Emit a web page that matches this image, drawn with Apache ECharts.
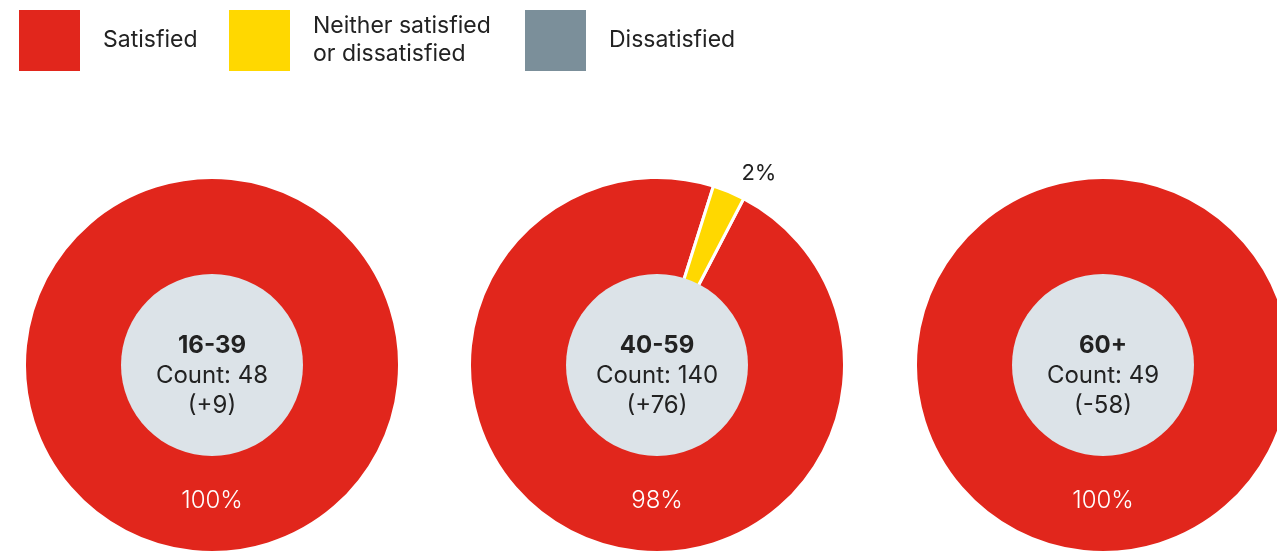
<!DOCTYPE html>
<html>
<head>
<meta charset="utf-8">
<script src="https://cdn.jsdelivr.net/npm/echarts@6/dist/echarts.min.js"></script>
<style>
html,body{margin:0;padding:0;background:#fff;}
#chart{width:1277px;height:552px;}
</style>
</head>
<body>
<div id="chart"></div>
<script>
// ---- data ----
const categories = ['Satisfied', 'Neither satisfied or dissatisfied', 'Dissatisfied'];
const legendLabels = ['Satisfied', 'Neither satisfied\nor dissatisfied', 'Dissatisfied'];
const groups = ['16-39', '40-59', '60+'];
const counts = [48, 140, 49];
const changes = ['+9', '+76', '-58'];
const satisfied = [100, 98, 100];
const neither = [0, 2, 0];
const dissatisfied = [0, 0, 0];

// ---- style ----
const colors = ['#e1261c', '#ffd800', '#7b8f9a'];
const innerFill = '#dce3e8';
const textColor = '#222222';
const font = 'Inter, "Noto Sans", sans-serif';
const centers = [[212, 365], [657, 365], [1103, 365]];
const legendLefts = [19, 229, 525];

const chart = echarts.init(document.getElementById('chart'));

const series = [];
groups.forEach((g, i) => {
  const vals = [satisfied[i], neither[i], dissatisfied[i]];
  series.push({
    type: 'pie',
    name: g,
    center: centers[i],
    radius: [88, 187.5],
    startAngle: 62.5,
    minAngle: 10,
    avoidLabelOverlap: false,
    silent: true,
    color: colors,
    itemStyle: { borderColor: '#fff', borderWidth: 3 },
    labelLine: { show: false, length: 20, length2: 0 },
    label: { fontFamily: font },
    labelLayout: function (p) {
      if (p.dataIndex === 0) {
        return {
          x: p.rect.x + p.rect.width / 2,
          y: p.rect.y + p.rect.height / 2 + 136,
          align: 'center',
          verticalAlign: 'middle'
        };
      }
    },
    data: categories.map((c, k) => ({
      name: c,
      value: vals[k] === 0 ? '-' : vals[k],
      label: k === 0
        ? { show: true, position: 'inside', color: '#fff', fontSize: 24, fontWeight: 300, fontFamily: font, formatter: p => p.value + '%' }
        : { show: vals[k] !== 0, position: 'outside', color: textColor, fontSize: 22, fontFamily: font, formatter: p => p.value + '%' }
    }))
  });
  series.push({
    type: 'pie',
    name: g + ' centre',
    center: centers[i],
    radius: [0, 91],
    silent: true,
    itemStyle: { color: innerFill },
    label: {
      show: true,
      position: 'center',
      offset: [0, 11],
      color: textColor,
      fontFamily: font,
      formatter: () => '{b|' + g + '}\n{n|Count: ' + counts[i] + '}\n{n|(' + changes[i] + ')}',
      rich: {
        b: { fontSize: 24, fontWeight: 'bold', lineHeight: 30, color: textColor, fontFamily: font },
        n: { fontSize: 24, lineHeight: 30, color: textColor, fontFamily: font }
      }
    },
    labelLine: { show: false },
    data: [{ name: g, value: 1 }]
  });
});

chart.setOption({
  animation: false,
  legend: categories.map((c, k) => ({
    left: legendLefts[k],
    top: 10,
    padding: 0,
    selectedMode: false,
    icon: 'rect',
    itemWidth: 61,
    itemHeight: 61,
    itemStyle: { borderWidth: 0 },
    data: [c],
    formatter: name => legendLabels[categories.indexOf(name)],
    textStyle: { fontSize: 23, lineHeight: 28, color: textColor, fontFamily: font, padding: [0, 0, 0, 18] }
  })),
  series: series
});
</script>
</body>
</html>
